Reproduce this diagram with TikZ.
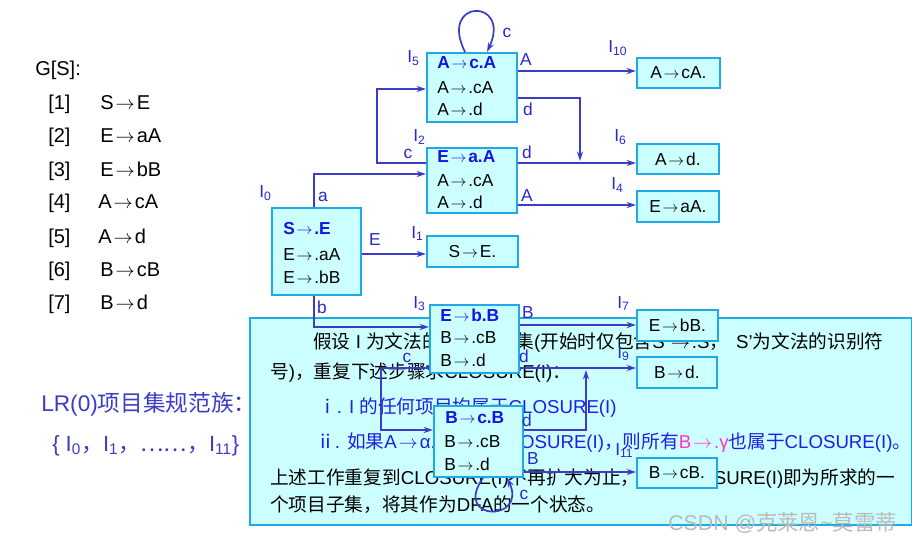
\documentclass[tikz,border=0pt]{standalone}
\usepackage{fontspec}
\setmainfont{Liberation Sans}
\newfontfamily\cjk{Noto Sans CJK SC}
\usetikzlibrary{arrows.meta}
\definecolor{boxf}{RGB}{204,255,255}
\definecolor{boxd}{RGB}{30,170,230}
\definecolor{edgec}{RGB}{60,60,200}
\definecolor{hdr}{RGB}{20,20,230}
\definecolor{lbl}{RGB}{40,40,205}
\definecolor{txtblue}{RGB}{30,30,230}
\definecolor{mag}{RGB}{255,51,204}
\definecolor{wm}{RGB}{185,185,185}
\newcommand\zh[1]{{\cjk #1}}
\newcommand\Isub[1]{I\textsubscript{#1}}
\newcommand\ar{\kern.1em\ensuremath{\rightarrow}\kern.1em}
\begin{document}
\begin{tikzpicture}[x=0.75pt,y=-0.75pt,
  state/.style={draw=boxd, fill=boxf, line width=1.4pt, inner sep=0pt, anchor=north west, font=\fontsize{13}{15}\selectfont},
  item/.style={anchor=base west, inner sep=0pt, font=\fontsize{13}{15}\selectfont},
  head/.style={anchor=base west, inner sep=0pt, text=hdr, font=\fontsize{13}{15}\selectfont\bfseries},
  edge/.style={draw=edgec, line width=1.3pt, -{Stealth[length=7pt,width=4.5pt]}},
  thickedge/.style={edge, line width=2.2pt},
  lab/.style={text=lbl, inner sep=0pt, font=\fontsize{13}{15}\selectfont},
  ilab/.style={text=lbl, inner sep=0pt, anchor=base west, font=\fontsize{13}{15}\selectfont},
  gram/.style={anchor=base west, inner sep=0pt, font=\fontsize{15}{18}\selectfont},
  para/.style={anchor=base west, inner sep=0pt, font=\fontsize{14}{16}\selectfont}]
\useasboundingbox[fill=white] (0,0) rectangle (912,545);

% grammar
\node[gram] (g0) at (35,76) {G[S]:};
\node[gram] (n1) at (48,110) {[1]};
\node[gram] (p1) at (100,110) {S\ar E};
\node[gram] (n2) at (48,143) {[2]};
\node[gram] (p2) at (100,143) {E\ar aA};
\node[gram] (n3) at (48,176) {[3]};
\node[gram] (p3) at (100,176) {E\ar bB};
\node[gram] (n4) at (48,209) {[4]};
\node[gram] (p4) at (98,209) {A\ar cA};
\node[gram] (n5) at (48,243) {[5]};
\node[gram] (p5) at (98,243) {A\ar d};
\node[gram] (n6) at (48,276) {[6]};
\node[gram] (p6) at (100,276) {B\ar cB};
\node[gram] (n7) at (48,309) {[7]};
\node[gram] (p7) at (100,309) {B\ar d};

\node[gram, text=edgec, font=\fontsize{17}{20}\selectfont] (lr) at (41,411) {LR(0)\zh{项目集规范族：}};
\node[gram, text=edgec, font=\fontsize{16.5}{20}\selectfont] (fam) at (52,451) {\{ \Isub{0}\zh{，}\Isub{1}\zh{，……，}\Isub{11}\}};

% text box (behind diagram)
\node[draw=boxd, fill=boxf, line width=1.4pt, anchor=north west, minimum width=496.5pt, minimum height=155.25pt, inner sep=0pt] (tb) at (249,317) {};
\node[para] (t1) at (313,348) {\zh{假设} I \zh{为文法的一个项目集}(\zh{开始时仅包含}S'\ar.S\zh{，}\hspace{6pt}S'\zh{为文法的识别符}};
\node[para] (t2) at (270,378) {\zh{号})\zh{，重复下述步骤求}CLOSURE(I)\zh{：}};
\node[para, text=txtblue] (t3) at (318,413) {\zh{ⅰ}. I \zh{的任何项目均属于}CLOSURE(I)};
\node[para, text=txtblue] (t4) at (316,448) {\zh{ⅱ}. \zh{如果}A\ar α.{\color{mag}Bβ}\zh{属于}CLOSURE(I)\zh{，则所有}{\color{mag}B\ar.γ}\zh{也属于}CLOSURE(I)\zh{。}};
\node[para] (t5) at (270,484) {\zh{上述工作重复到}CLOSURE(I)\zh{不再扩大为止，}\hspace{27pt}CLOSURE(I)\zh{即为所求的一}};
\node[para] (t6) at (270,511) {\zh{个项目子集，将其作为}DFA\zh{的一个状态。}};

% states
\node[state, minimum width=67.5pt, minimum height=51.75pt] (i5) at (426,52) {};
\node[head] (i5a) at (437,69) {A\ar c.A};
\node[item] (i5b) at (437,94) {A\ar.cA};
\node[item] (i5c) at (437,116) {A\ar.d};

\node[state, minimum width=67.5pt, minimum height=48.75pt] (i2) at (426,147) {};
\node[head] (i2a) at (437,163) {E\ar a.A};
\node[item] (i2b) at (437,187) {A\ar.cA};
\node[item] (i2c) at (437,209) {A\ar.d};

\node[state, minimum width=66.75pt, minimum height=65.25pt] (i0) at (271,207) {};
\node[head] (i0a) at (283,234) {S\ar.E};
\node[item] (i0b) at (283,260) {E\ar.aA};
\node[item] (i0c) at (283,283) {E\ar.bB};

\node[state, minimum width=68.25pt, minimum height=23.25pt] (i1) at (426,235) {S\ar E.};

\node[state, minimum width=66.75pt, minimum height=51pt] (i3) at (429,304) {};
\node[head] (i3a) at (440,321) {E\ar b.B};
\node[item] (i3b) at (440,343) {B\ar.cB};
\node[item] (i3c) at (440,366) {B\ar.d};

\node[state, minimum width=66.75pt, minimum height=53.25pt] (i8) at (433,405) {};
\node[head] (i8a) at (445,423) {B\ar c.B};
\node[item] (i8b) at (444,447) {B\ar.cB};
\node[item] (i8c) at (444,470) {B\ar.d};

\node[state, minimum width=62.25pt, minimum height=22.5pt] (i10) at (636,57) {A\ar cA.};
\node[state, minimum width=61.5pt, minimum height=22.5pt] (i6) at (636,143) {A\ar d.};
\node[state, minimum width=61.5pt, minimum height=23.25pt] (i4) at (636,190) {E\ar aA.};
\node[state, minimum width=60.75pt, minimum height=23.25pt] (i7) at (636,309) {E\ar bB.};
\node[state, minimum width=60pt, minimum height=23.25pt] (i9) at (636,356) {B\ar d.};
\node[state, minimum width=60pt, minimum height=22.5pt] (i11) at (636,457) {B\ar cB.};

% state labels
\node[ilab] (l5) at (407,63) {\Isub{5}};
\node[ilab] (l2) at (413,142) {\Isub{2}};
\node[ilab] (l0) at (259,198) {\Isub{0}};
\node[ilab] (l1) at (411,238) {\Isub{1}};
\node[ilab] (l3) at (413,308) {\Isub{3}};
\node[ilab] (l10) at (608,53) {\Isub{10}};
\node[ilab] (l6) at (614,142) {\Isub{6}};
\node[ilab] (l4) at (611,190) {\Isub{4}};
\node[ilab] (l7) at (617,308) {\Isub{7}};
\node[ilab] (l9) at (617,358) {\Isub{9}};
\node[ilab] (l11) at (615,455) {\Isub{11}};

% edges
\draw[edge] (314,0 |- i0.north) |- (i2.west |- 0,174);
\draw[edge] (i0.east |- 0,254) -- (i1.west |- 0,254);
\draw[edge] (314,0 |- i0.south) |- (i3.west |- 0,327);
\draw[thickedge] (i2.west |- 0,163) -- (377,163) |- (i5.west |- 0,89);
\draw[edge] (465,0 |- i5.north) .. controls (438,-2) and (512,-2) .. (487,0 |- i5.north);
\draw[edge] (i5.east |- 0,71) -- (i10.west |- 0,71);
\draw[thickedge] (i5.east |- 0,98) -| (580,161);
\draw[edge] (i2.east |- 0,163) -- (i6.west |- 0,163);
\draw[edge] (i2.east |- 0,205) -- (i4.west |- 0,205);
\draw[edge] (i3.east |- 0,325) -- (i7.west |- 0,325);
\draw[edge] (i3.east |- 0,368) -- (i9.west |- 0,368);
\draw[thickedge] (i3.west |- 0,368) -- (381,368) |- (i8.west |- 0,430);
\draw[thickedge] (i8.east |- 0,430) -| (586,370);
\draw[edge] (i8.east |- 0,472) -- (i11.west |- 0,472);
\draw[edge] (483,0 |- i8.south) .. controls (452,522) and (528,522) .. (507,0 |- i8.south);

% edge labels
\node[lab] (ea) at (323,197) {a};
\node[lab] (eE) at (375,240) {E};
\node[lab] (eb) at (322,307) {b};
\node[lab] (ec5) at (507,33) {c};
\node[lab] (eA5) at (526,60) {A};
\node[lab] (ed5) at (528,109) {d};
\node[lab] (ec2) at (408,154) {c};
\node[lab] (ed2) at (527,152) {d};
\node[lab] (eA2) at (527,196) {A};
\node[lab] (eB3) at (528,313) {B};
\node[lab] (ec3) at (407,358) {c};
\node[lab] (ed3) at (524,356) {d};
\node[lab] (ed8) at (527,420) {d};
\node[lab] (eB8) at (533,459) {B};
\node[lab] (ec8) at (524,495) {c};

% watermark
\node[anchor=base west, inner sep=0pt, text=wm, font=\fontsize{16}{18}\selectfont] (wmk) at (668,530) {CSDN @\zh{克莱恩}\textasciitilde\zh{莫雷蒂}};
\end{tikzpicture}
\end{document}
